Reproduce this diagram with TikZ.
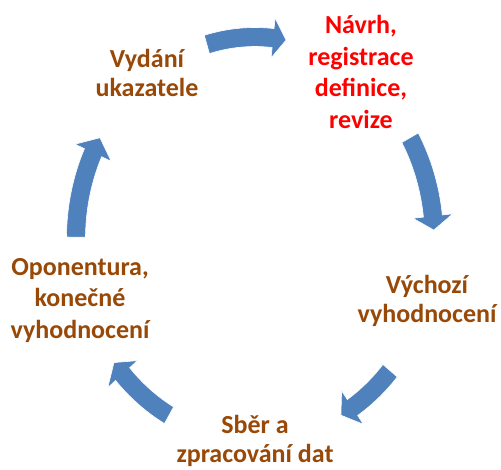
\documentclass[tikz,border=0pt]{standalone}
\usepackage{fontspec}
\setmainfont{Carlito}
\definecolor{arrowblue}{HTML}{4F81BD}
\definecolor{txtbrown}{HTML}{984807}
\definecolor{txtred}{HTML}{FF0000}
% #1 tail angle, #2 head-base angle, #3 tip angle (parametric, on ellipse)
\newcommand\cycarrow[3]{%
  \fill[arrowblue, draw=white, line width=0.6pt]
    plot[domain=#1:#2, samples=40] ({255+188.5*cos(\x)},{238.5-211*sin(\x)})
    -- ({255+199*cos(#2)},{238.5-221.5*sin(#2)})
    -- ({255+179*cos(#3)},{238.5-201.5*sin(#3)})
    -- ({255+159*cos(#2)},{238.5-181.5*sin(#2)})
    -- plot[domain=#2:#1, samples=40] ({255+169.5*cos(\x)},{238.5-192*sin(\x)})
    -- cycle;}
\begin{document}
\begin{tikzpicture}[x=1pt,y=-1pt,
  lbl/.style={font=\bfseries\fontsize{26}{29}\selectfont, align=center, inner sep=0pt, anchor=base, text=txtbrown},
  lblthree/.style={lbl, font=\bfseries\fontsize{26}{31.5}\selectfont}]
\useasboundingbox (0,0) rectangle (501,469);
\fill[white] (0,0) rectangle (501,469);
\cycarrow{105.6}{84.2}{80}
\cycarrow{30}{6.4}{2.4}
\cycarrow{-41}{-57}{-61.3}
\cycarrow{-118.7}{-137.7}{-142}
\cycarrow{179.6}{154.8}{150}
\node[lblthree, text=txtred] (navrh) at (361,128) {Návrh,\\registrace\\definice,\\revize};
\node[lbl] (vychozi) at (427,322) {Výchozí\\vyhodnocení};
\node[lbl] (sber) at (255,462) {Sběr a\\zpracování dat};
\node[lblthree] (oponentura) at (80,338) {Oponentura,\\konečné\\vyhodnocení};
\node[lbl] (vydani) at (147,96) {Vydání\\ukazatele};
\end{tikzpicture}
\end{document}
